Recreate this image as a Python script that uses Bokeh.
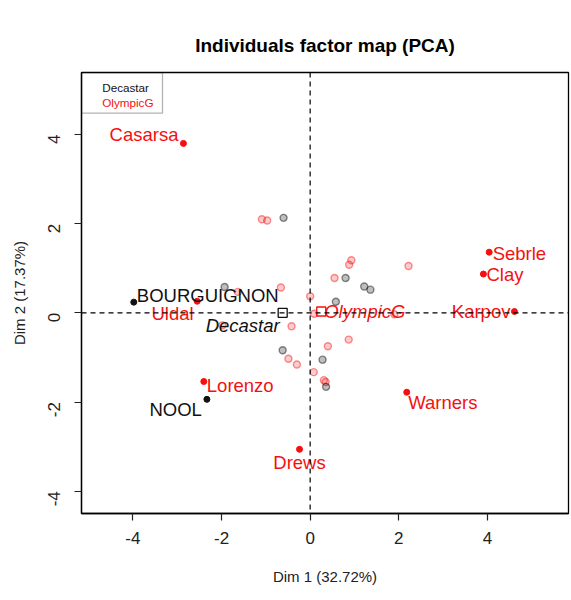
import math
from bokeh.plotting import figure
from bokeh.models import Span, BoxAnnotation, FixedTicker, ColumnDataSource
from bokeh.core.properties import value
from bokeh.embed import file_html
from bokeh.resources import INLINE

# ---------------- data ----------------
title_text = "Individuals factor map (PCA)"
x_label = "Dim 1 (32.72%)"
y_label = "Dim 2 (17.37%)"

tick_values = [-4, -2, 0, 2, 4]
tick_labels = ["-4", "-2", "0", "2", "4"]

# highlighted individuals
ind_names = ["Casarsa", "Sebrle", "Clay", "Karpov", "Warners", "Drews",
             "Lorenzo", "NOOL", "BOURGUIGNON", "Uldal"]
ind_x = [-2.86, 4.04, 3.91, 4.61, 2.18, -0.24, -2.40, -2.33, -3.98, -2.55]
ind_y = [3.80, 1.36, 0.87, 0.03, -1.78, -3.06, -1.54, -1.94, 0.24, 0.26]
ind_group = ["OlympicG", "OlympicG", "OlympicG", "OlympicG", "OlympicG",
             "OlympicG", "OlympicG", "Decastar", "Decastar", "OlympicG"]

# other (faded) individuals, OlympicG
oly_x = [-1.09, -0.97, 0.93, 0.88, 2.22, 0.55, -0.66, 0.00, 0.09, -0.42,
         0.87, 0.40, -0.49, -0.30, 0.08, 0.31, 0.35, -1.63, -1.98, 1.90]
oly_y = [2.10, 2.07, 1.18, 1.08, 1.05, 0.78, 0.57, 0.37, -0.02, -0.30,
         -0.60, -0.75, -1.03, -1.16, -1.33, -1.51, -1.55, 0.47, -0.28, -0.03]
# other (faded) individuals, Decastar
dec_x = [-0.60, 0.80, 1.22, 1.36, 0.58, -0.62, 0.28, 0.36, -1.93]
dec_y = [2.13, 0.78, 0.59, 0.52, 0.25, -0.84, -1.05, -1.66, 0.58]

# category centres
cat_names = ["Decastar", "OlympicG"]
cat_x = [-0.62, 0.25]
cat_y = [0.00, 0.03]

# ---------------- styling ----------------
FONT = "Liberation Sans"
RED = "#F41010"
BLACK = "#111111"
group_color = {"Decastar": BLACK, "OlympicG": RED}

X0, X1 = -5.16, 5.83
Y0, Y1 = -4.50, 5.39
FW, FH = 487, 441

# label placement: (align, dx, dy) in pixels (dy positive = down)
ind_place = {
    "Casarsa": ("right", -5, -9),
    "Sebrle": ("left", 3.5, 1.5),
    "Clay": ("left", 3, 0),
    "Karpov": ("right", -4, 0),
    "Warners": ("left", 1.5, 10.5),
    "Drews": ("center", 0, 13),
    "Lorenzo": ("left", 3, 3.5),
    "NOOL": ("right", -5, 10),
    "BOURGUIGNON": ("left", 3, -6.5),
    "Uldal": ("right", -3.5, 12),
}
cat_place = {
    "Decastar": ("right", -3, 12.5),
    "OlympicG": ("left", 3, 0),
}

p = figure(
    frame_width=FW, frame_height=FH,
    x_range=(X0, X1), y_range=(Y0, Y1),
    output_backend="svg", toolbar_location=None,
    min_border_left=81, min_border_right=2,
    min_border_top=72, min_border_bottom=86,
    background_fill_color="white", border_fill_color="white",
)
p.grid.visible = False
p.outline_line_color = "black"
p.outline_line_width = 1.3

p.title.text = title_text
p.title.text_font = FONT
p.title.text_font_size = "19px"
p.title.text_font_style = "bold"
p.title.align = "center"
p.title.text_color = "black"
p.title.standoff = 34

for ax in (p.xaxis[0], p.yaxis[0]):
    ax.ticker = FixedTicker(ticks=tick_values)
    ax.major_label_overrides = {v: l for v, l in zip(tick_values, tick_labels)}
    ax.major_label_text_font = FONT
    ax.major_label_text_font_size = "17px"
    ax.major_label_text_color = "#222222"
    ax.major_tick_out = 7
    ax.major_tick_in = 0
    ax.minor_tick_out = 0
    ax.minor_tick_in = 0
    ax.major_tick_line_color = "#222222"
    ax.major_tick_line_width = 1.2
    ax.axis_line_color = "black"
    ax.axis_line_width = 1.3
    ax.axis_label_text_font = FONT
    ax.axis_label_text_font_size = "15px"
    ax.axis_label_text_font_style = "normal"
    ax.axis_label_text_color = "#222222"

p.xaxis.axis_label = x_label
p.yaxis.axis_label = y_label
p.xaxis.major_label_standoff = 11
p.xaxis.axis_label_standoff = 21
p.yaxis.major_label_standoff = 20
p.yaxis.axis_label_standoff = 12
p.yaxis.major_label_orientation = math.pi / 2

# dashed axes through origin
p.add_layout(Span(location=0, dimension="height", line_color="black",
                  line_dash="5 4", line_width=1.2))
p.add_layout(Span(location=0, dimension="width", line_color="black",
                  line_dash="5 4", line_width=1.2))

# faded individuals
p.scatter(oly_x, oly_y, size=7, marker="circle",
          fill_color=RED, fill_alpha=0.22, line_color=RED, line_alpha=0.45,
          line_width=1.4)
p.scatter(dec_x, dec_y, size=7, marker="circle",
          fill_color="black", fill_alpha=0.25, line_color="black",
          line_alpha=0.45, line_width=1.4)

# highlighted individuals
ind_src = ColumnDataSource(dict(
    x=ind_x, y=ind_y, name=ind_names,
    color=[group_color[g] for g in ind_group],
    align=[ind_place[n][0] for n in ind_names],
    dx=[ind_place[n][1] for n in ind_names],
    dy=[ind_place[n][2] for n in ind_names],
))
p.scatter("x", "y", source=ind_src, size=6, marker="circle",
          fill_color="color", line_color="color")
p.text("x", "y", text="name", source=ind_src, text_color="color",
       text_align="align", text_baseline="middle",
       x_offset="dx", y_offset="dy",
       text_font=value(FONT), text_font_size="18.5px")

# category centres
cat_src = ColumnDataSource(dict(
    x=cat_x, y=cat_y, name=cat_names,
    color=[group_color[c] for c in cat_names],
    align=[cat_place[n][0] for n in cat_names],
    dx=[cat_place[n][1] for n in cat_names],
    dy=[cat_place[n][2] for n in cat_names],
))
p.scatter("x", "y", source=cat_src, size=9, marker="square",
          fill_color=None, line_color="color", line_width=1.3)
p.text("x", "y", text="name", source=cat_src, text_color="color",
       text_align="align", text_baseline="middle",
       x_offset="dx", y_offset="dy",
       text_font=value(FONT), text_font_size="18.5px",
       text_font_style="italic")

# legend (no symbols, coloured text, framed top-left)
PX = FW / (X1 - X0)
PY = FH / (Y1 - Y0)
p.add_layout(BoxAnnotation(left=X0, right=X0 + 81 / PX,
                           top=Y1, bottom=Y1 - 40.7 / PY,
                           fill_color=None, fill_alpha=0,
                           line_color="black", line_width=1.3))
leg_src = ColumnDataSource(dict(
    x=[X0, X0], y=[Y1, Y1], name=cat_names,
    color=[group_color[c] for c in cat_names],
    dy=[15.3, 29.7],
))
p.text("x", "y", text="name", source=leg_src, text_color="color",
       text_align="left", text_baseline="middle",
       x_offset=20.7, y_offset="dy",
       text_font=value(FONT), text_font_size="11.7px")

open("out.html", "w").write(file_html(p, INLINE))
